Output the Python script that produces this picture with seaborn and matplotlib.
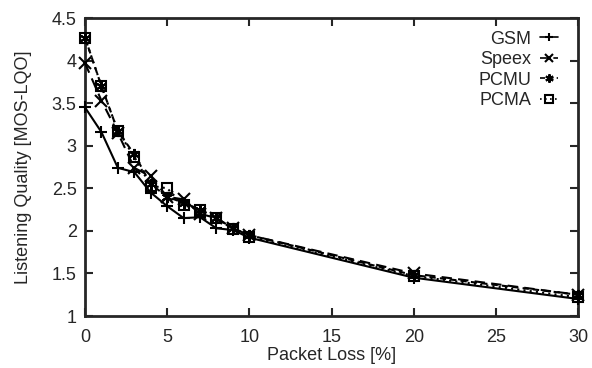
import pandas as pd
import numpy as np
import seaborn as sns
import matplotlib.pyplot as plt

sns.set_style("ticks")
plt.rcParams['font.family'] = ['Liberation Sans', 'DejaVu Sans']
plt.rcParams['font.size'] = 13

loss = [0, 1, 2, 3, 4, 5, 6, 7, 8, 9, 10, 20, 30]
gsm = [3.45, 3.16, 2.74, 2.69, 2.45, 2.29, 2.15, 2.16, 2.03, 2.01, 1.92, 1.45, 1.20]
speex = [3.97, 3.53, 3.15, 2.74, 2.64, 2.40, 2.37, 2.20, 2.15, 2.03, 1.95, 1.50, 1.25]
pcmu = [4.27, 3.70, 3.17, 2.90, 2.55, 2.40, 2.33, 2.25, 2.15, 2.03, 1.95, 1.48, 1.25]
pcma = [4.27, 3.70, 3.17, 2.87, 2.53, 2.50, 2.30, 2.25, 2.15, 2.02, 1.93, 1.47, 1.22]
codecs = ["GSM", "Speex", "PCMU", "PCMA"]

df = pd.concat([
    pd.DataFrame({"loss": loss, "mos": vals, "codec": name})
    for name, vals in zip(codecs, [gsm, speex, pcmu, pcma])
])

styles = {
    "GSM": dict(marker="+", linestyle="-", mfc="black"),
    "Speex": dict(marker="x", linestyle=(0, (5, 3)), mfc="black"),
    "PCMU": dict(marker=(6, 2, 0), linestyle=(0, (3, 2)), mfc="black"),
    "PCMA": dict(marker="s", linestyle=(0, (1, 2)), mfc="none"),
}

fig = plt.figure(figsize=(5.92, 3.68), dpi=100)
ax = fig.add_axes([0.1436, 0.1413, 0.8328, 0.8097])
for name in codecs:
    st = styles[name]
    sns.lineplot(
        data=df[df["codec"] == name], x="loss", y="mos",
        color="black", linewidth=1.5, marker=st["marker"],
        linestyle=st["linestyle"], markersize=8 if st["marker"] != "s" else 6.5,
        markeredgewidth=1.5, markeredgecolor="black", markerfacecolor=st["mfc"],
        label=name, ax=ax, clip_on=False, zorder=3
    )

ax.set_xlim(0, 30)
ax.set_ylim(1, 4.5)
ax.set_xticks(range(0, 31, 5))
ax.set_yticks(np.arange(1, 4.51, 0.5))
ax.set_yticklabels(["1", "1.5", "2", "2.5", "3", "3.5", "4", "4.5"])
ax.tick_params(direction="in", top=True, right=True, length=6, width=1.5,
               labelsize=13, pad=6)
ax.tick_params(axis="x", pad=9)
for s in ax.spines.values():
    s.set_linewidth(2)
ax.set_xlabel("Packet Loss [%]", fontsize=13, labelpad=1)
ax.set_ylabel("Listening Quality [MOS-LQO]", fontsize=13, labelpad=14)

leg = ax.legend(loc="upper right", frameon=False, markerfirst=False,
                handlelength=1.0, handletextpad=0.5, fontsize=13, labelspacing=0.19,
                borderaxespad=0.3, bbox_to_anchor=(0.985, 1.0))
for ln in leg.get_lines():
    ln.set_markersize(6)
    ln.set_linewidth(1.2)

fig.savefig("out.png", dpi=100)
